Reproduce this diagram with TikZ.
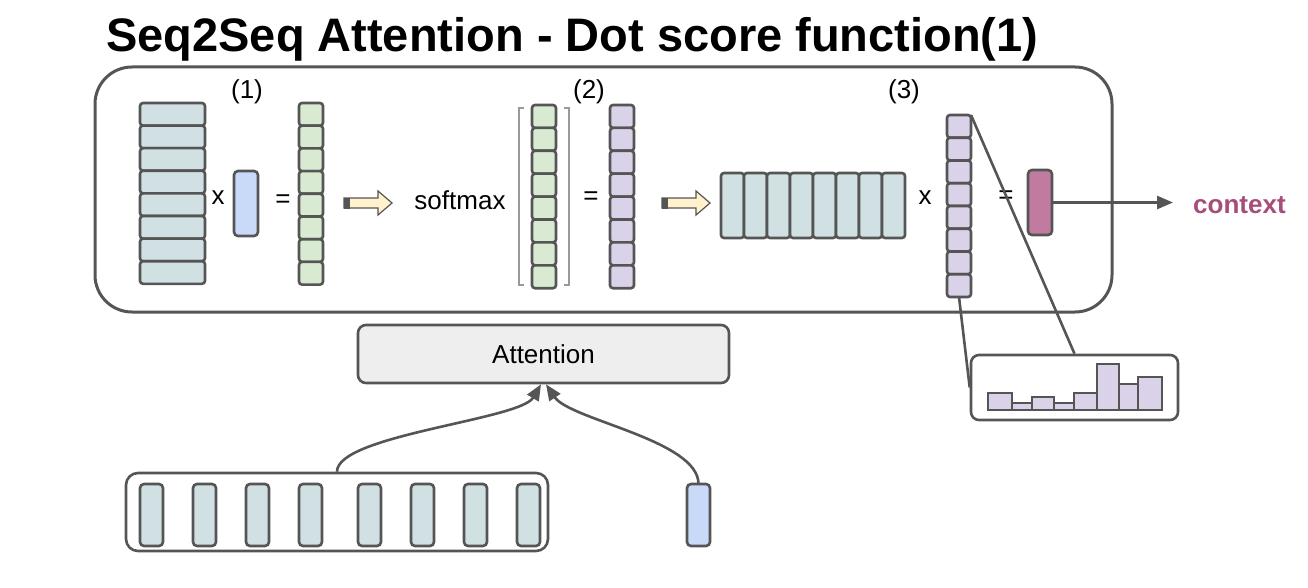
\documentclass[tikz,border=0pt]{standalone}
\usepackage{fontspec}
\setmainfont{Liberation Sans}
\usetikzlibrary{arrows.meta}
\definecolor{edge}{HTML}{555555}
\definecolor{cyanl}{HTML}{D0E0E3}
\definecolor{bluel}{HTML}{C9DAF8}
\definecolor{greenl}{HTML}{D9EAD3}
\definecolor{purplel}{HTML}{D9D2E9}
\definecolor{yell}{HTML}{FFF2CC}
\definecolor{magl}{HTML}{C27BA0}
\definecolor{ctxc}{HTML}{A64D79}
\definecolor{attfill}{HTML}{EEEEEE}
\newcommand{\vcol}[6]{%
  \foreach \i in {1,...,8} {
    \node[cell, fill=#6, minimum width=#4pt, minimum height=#5pt, anchor=north west] (#1-\i) at (#2, {#3+(\i-1)*#5}) {};
  }}
\newcommand{\yarrow}[3]{%
  \draw[edge, line width=1.2pt, fill=yell] (#2,#3-5) -- (#2+34,#3-5) -- (#2+34,#3-12) -- (#2+48,#3) -- (#2+34,#3+12) -- (#2+34,#3+5) -- (#2,#3+5) -- cycle;
  \fill[edge] (#2,#3-5.5) rectangle (#2+6,#3+5.5);
  \coordinate (#1) at (#2+24,#3);}
\begin{document}
\begin{tikzpicture}[x=1pt,y=-1pt,
  cell/.style={draw=edge, line width=2.6pt, rounded corners=3pt, inner sep=0pt, outer sep=0pt},
  vec/.style={draw=edge, line width=2.6pt, rounded corners=4pt, inner sep=0pt, outer sep=0pt},
  txt/.style={font=\fontsize{26}{30}\selectfont, inner sep=0pt},
  lbl/.style={font=\fontsize{26}{30}\selectfont, inner sep=0pt},
  conn/.style={draw=edge, line width=2.6pt},
  tip/.style={-{Triangle[length=16pt,width=13pt]}}
]
\useasboundingbox (0,0) rectangle (1308,588);
\fill[white] (0,0) rectangle (1308,588);

% title
\node[font=\bfseries\fontsize{47}{56}\selectfont, anchor=base west, inner sep=0pt] (title) at (106,52) {Seq2Seq Attention - Dot score function(1)};

% main box
\node[draw=edge, line width=3pt, rounded corners=37pt, minimum width=1017pt, minimum height=245pt, inner sep=0pt] (main) at (603.5,189.5) {};

% step labels
\node[lbl] (l1) at (247,92) {(1)};
\node[lbl] (l2) at (589,92) {(2)};
\node[lbl] (l3) at (904,92) {(3)};

% step 1
\vcol{A}{140}{103}{65}{22.6}{cyanl}
\node[txt] (x1) at (218,198) {x};
\node[vec, fill=bluel, minimum width=24pt, minimum height=65pt] (hq) at (246,203.5) {};
\node[txt] (e1) at (283,201) {=};
\vcol{G}{299}{103}{24}{22.7}{greenl}
\yarrow{ar1}{344}{203}

% step 2
\node[txt] (sm) at (460,200) {softmax};
\draw[gray!80, line width=1.2pt] (524,108) -- (519,108) -- (519,285) -- (524,285);
\draw[gray!80, line width=1.2pt] (564,108) -- (569,108) -- (569,285) -- (564,285);
\vcol{H}{532}{105}{24}{22.9}{greenl}
\node[txt] (e2) at (591,198) {=};
\vcol{P}{610}{105}{24}{22.9}{purplel}
\yarrow{ar2}{662}{203}

% step 3
\foreach \i in {1,...,8} {
  \node[cell, fill=cyanl, minimum width=23pt, minimum height=65pt, anchor=north west] (B-\i) at ({721+(\i-1)*23},173) {};
}
\node[txt] (x3) at (925,198) {x};
\vcol{Q}{947}{115}{24}{22.75}{purplel}
\node[txt] (e3) at (1006,197) {=};
\node[vec, fill=magl, minimum width=24pt, minimum height=65pt] (ctxv) at (1040,202.5) {};
\node[font=\bfseries\fontsize{26}{30}\selectfont, text=ctxc, anchor=west, inner sep=0pt] (ctx) at (1193,205) {context};
\draw[conn, tip] (ctxv.east) -- ([xshift=-20pt]ctxv.east -| ctx.west);

% histogram
\node[draw=edge, line width=2.6pt, rounded corners=8pt, minimum width=207pt, minimum height=65pt, inner sep=0pt] (hist) at (1074.5,387.5) {};
\foreach \a/\b/\t in {988/1012/393, 1012/1032/403, 1032/1054/397, 1054/1074/403, 1074/1097/393, 1097/1119/364, 1119/1138/384, 1138/1162/377} {
  \draw[edge, line width=2.6pt, fill=purplel] (\a,410) rectangle (\b,\t);
}
\draw[conn] (Q-1.north east) -- (hist.north);
\draw[conn] (Q-8.south) -- (hist.west);

% attention module
\node[draw=edge, line width=2.6pt, rounded corners=8pt, fill=attfill, minimum width=371pt, minimum height=58pt, inner sep=0pt, font=\fontsize{26}{30}\selectfont] (att) at (543.5,354) {Attention};
\node[draw=edge, line width=2.6pt, rounded corners=12pt, minimum width=422pt, minimum height=78pt, inner sep=0pt] (enc) at (337,512) {};
\foreach \xx [count=\i] in {140,193,246,299,358,411,464,517} {
  \node[vec, fill=cyanl, minimum width=23pt, minimum height=62pt, anchor=north west] (E-\i) at (\xx,484) {};
}
\node[vec, fill=bluel, minimum width=23pt, minimum height=62pt, anchor=north west] (dec) at (687,484) {};
\draw[conn, tip] (enc.north) .. controls (337,435) and (520,420) .. ([xshift=-2.5pt]att.south);
\draw[conn, tip] (dec.north) .. controls (698.5,440) and (570,420) .. ([xshift=2.5pt]att.south);
\end{tikzpicture}
\end{document}
